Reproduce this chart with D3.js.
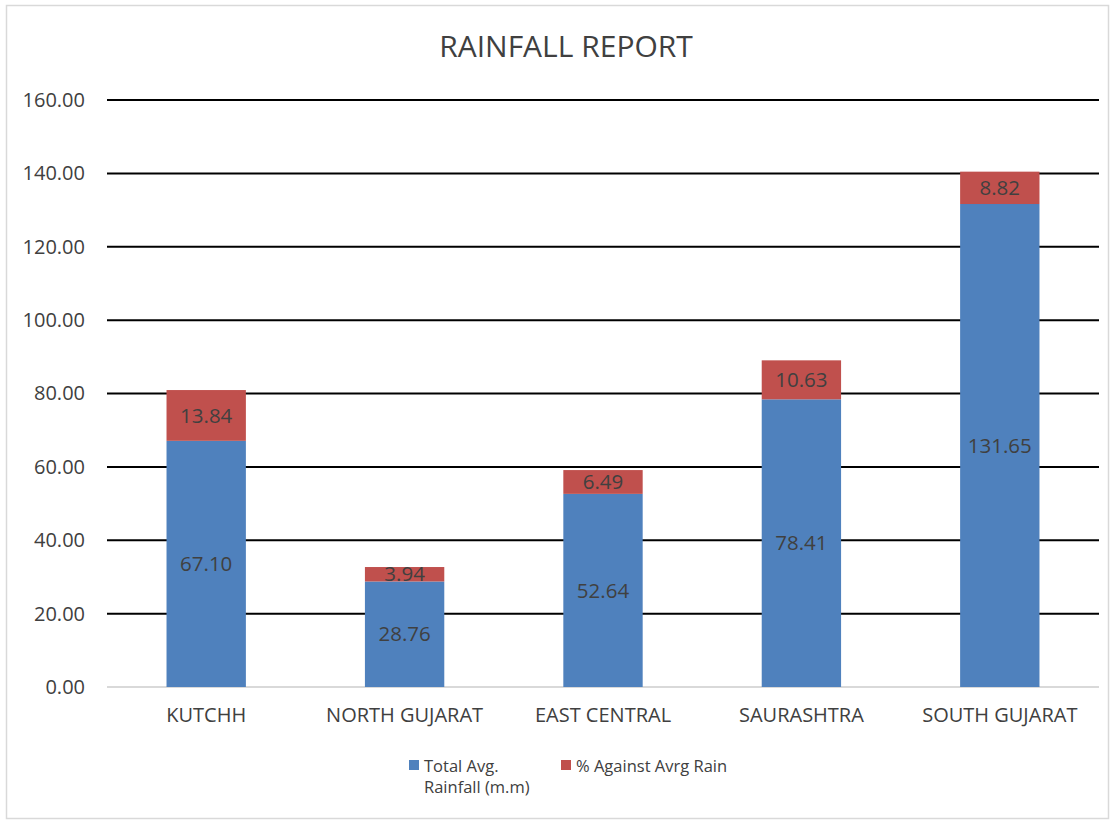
<!DOCTYPE html>
<html lang="en">
<head>
    <meta charset="UTF-8">
    <title>Rainfall Report</title>
    <script src="https://d3js.org/d3.v7.min.js"></script>
    <style>
        body {
            margin: 0;
            background-color: #ffffff;
            font-family: "Open Sans", "Liberation Sans", Arial, sans-serif;
        }
    </style>
</head>
<body>
    <svg id="chart"></svg>

    <script>
        // chart data
        const regions = ["KUTCHH", "NORTH GUJARAT", "EAST CENTRAL", "SAURASHTRA", "SOUTH GUJARAT"];
        const totalAvgRainfall = [67.10, 28.76, 52.64, 78.41, 131.65];
        const pctAgainstAvg = [13.84, 3.94, 6.49, 10.63, 8.82];
        const seriesNames = ["Total Avg. Rainfall (m.m)", "% Against Avrg Rain"];
        const yTicks = [0, 20, 40, 60, 80, 100, 120, 140, 160];

        const W = 1110, H = 821;
        const margin = { top: 100, right: 11, bottom: 134, left: 107 };
        const width = W - margin.left - margin.right;
        const height = H - margin.top - margin.bottom;
        const colors = ["#4f81bd", "#c0504d"];

        const svg = d3.select("#chart")
            .attr("width", W)
            .attr("height", H);

        // outer chart border
        svg.append("rect")
            .attr("x", 6.5).attr("y", 5.5)
            .attr("width", W - 8).attr("height", H - 8)
            .attr("fill", "none")
            .attr("stroke", "#d9d9d9")
            .attr("stroke-width", 1.5);

        svg.append("text")
            .attr("x", 566).attr("y", 57)
            .attr("text-anchor", "middle")
            .attr("font-size", 30)
            .attr("fill", "#404040")
            .text("RAINFALL REPORT");

        const g = svg.append("g")
            .attr("transform", `translate(${margin.left},${margin.top})`);

        const x = d3.scaleBand()
            .domain(regions)
            .range([0, width])
            .paddingInner(0.6)
            .paddingOuter(0.3);

        const y = d3.scaleLinear()
            .domain([0, 160])
            .range([height, 0]);

        // gridlines
        g.selectAll(".grid")
            .data(yTicks)
            .enter().append("line")
            .attr("x1", 0).attr("x2", width)
            .attr("y1", d => y(d)).attr("y2", d => y(d))
            .attr("stroke", d => d === 0 ? "#d9d9d9" : "#000000")
            .attr("stroke-width", 2);

        const yAxis = g.append("g")
            .call(d3.axisLeft(y).tickValues(yTicks).tickFormat(d3.format(".2f")).tickSize(0).tickPadding(22));
        yAxis.select(".domain").remove();
        yAxis.selectAll("text")
            .attr("font-size", 20)
            .attr("font-family", "'Open Sans', sans-serif")
            .attr("fill", "#404040");

        const xAxis = g.append("g")
            .attr("transform", `translate(0,${height})`)
            .call(d3.axisBottom(x).tickSize(0).tickPadding(21));
        xAxis.select(".domain").remove();
        xAxis.selectAll("text")
            .attr("font-size", 20)
            .attr("font-family", "'Open Sans', sans-serif")
            .attr("fill", "#404040");

        const rows = regions.map((r, i) => ({ region: r, total: totalAvgRainfall[i], pct: pctAgainstAvg[i] }));
        const stacked = d3.stack().keys(["total", "pct"])(rows);

        stacked.forEach((layer, li) => {
            g.selectAll(".bar" + li)
                .data(layer)
                .enter().append("rect")
                .attr("x", d => x(d.data.region))
                .attr("y", d => y(d[1]))
                .attr("width", x.bandwidth())
                .attr("height", d => y(d[0]) - y(d[1]))
                .attr("fill", colors[li]);

            g.selectAll(".label" + li)
                .data(layer)
                .enter().append("text")
                .attr("x", d => x(d.data.region) + x.bandwidth() / 2)
                .attr("y", d => (y(d[0]) + y(d[1])) / 2)
                .attr("dy", "0.35em")
                .attr("text-anchor", "middle")
                .attr("font-size", 20.5)
                .attr("fill", "#404040")
                .text(d => (d[1] - d[0]).toFixed(2));
        });

        // legend
        const legendPos = [{ x: 409, lines: ["Total Avg.", "Rainfall (m.m)"] }, { x: 561, lines: ["% Against Avrg Rain"] }];
        legendPos.forEach((l, i) => {
            svg.append("rect")
                .attr("x", l.x).attr("y", 760)
                .attr("width", 10).attr("height", 10)
                .attr("fill", colors[i]);
            const t = svg.append("text")
                .attr("x", l.x + 15).attr("y", 772)
                .attr("font-size", 16.5)
                .attr("fill", "#404040");
            l.lines.forEach((line, k) => {
                t.append("tspan")
                    .attr("x", l.x + 15)
                    .attr("dy", k === 0 ? 0 : 21)
                    .text(line);
            });
        });
    </script>
</body>
</html>
